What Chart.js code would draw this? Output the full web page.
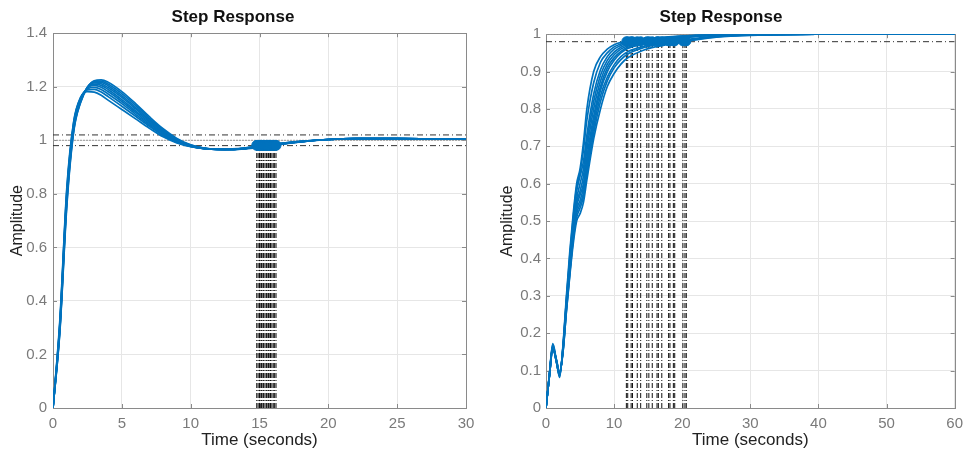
<!DOCTYPE html>
<html>
<head>
<meta charset="utf-8">
<script src="https://cdn.jsdelivr.net/npm/chart.js@4.4.0/dist/chart.umd.min.js"></script>
<style>
  html, body { margin: 0; padding: 0; background: #fff; }
  #wrap { position: relative; width: 970px; height: 456px; }
  .box { position: absolute; top: 0; width: 485px; height: 456px; }
</style>
</head>
<body>
<div id="wrap">
  <div class="box" style="left:0"><canvas id="leftChart" width="485" height="456"></canvas></div>
  <div class="box" style="left:485px"><canvas id="rightChart" width="485" height="456"></canvas></div>
</div>
<script>
// ---- left plot: step responses (time in seconds) ----
const leftTime = [0, 0.5, 1, 1.5, 2, 2.5, 3, 3.5, 4, 5, 6, 7, 8, 9, 10, 11, 12, 13, 14, 15, 16, 18, 20, 22, 25, 30];
const leftCurves = [
  [0, 0.33, 0.82, 1.07, 1.160, 1.182, 1.180, 1.168, 1.150, 1.115, 1.080, 1.045, 1.013, 0.990, 0.976, 0.969, 0.967, 0.968, 0.972, 0.978, 0.985, 0.996, 1.003, 1.006, 1.006, 1.004],
  [0, 0.32, 0.81, 1.065, 1.158, 1.188, 1.190, 1.180, 1.163, 1.127, 1.090, 1.052, 1.018, 0.992, 0.977, 0.969, 0.966, 0.967, 0.971, 0.978, 0.985, 0.996, 1.003, 1.006, 1.006, 1.004],
  [0, 0.315, 0.80, 1.06, 1.155, 1.192, 1.198, 1.190, 1.173, 1.137, 1.097, 1.057, 1.021, 0.994, 0.977, 0.969, 0.966, 0.967, 0.971, 0.977, 0.984, 0.995, 1.003, 1.006, 1.006, 1.004],
  [0, 0.31, 0.79, 1.055, 1.152, 1.195, 1.205, 1.198, 1.182, 1.145, 1.104, 1.062, 1.025, 0.996, 0.978, 0.969, 0.966, 0.966, 0.970, 0.977, 0.984, 0.995, 1.003, 1.006, 1.006, 1.004],
  [0, 0.305, 0.785, 1.05, 1.150, 1.197, 1.210, 1.205, 1.190, 1.152, 1.110, 1.067, 1.028, 0.998, 0.979, 0.969, 0.966, 0.966, 0.970, 0.976, 0.983, 0.995, 1.003, 1.006, 1.006, 1.004],
  [0, 0.30, 0.78, 1.045, 1.147, 1.198, 1.214, 1.211, 1.197, 1.160, 1.117, 1.072, 1.032, 1.000, 0.980, 0.970, 0.966, 0.966, 0.970, 0.976, 0.983, 0.995, 1.003, 1.006, 1.006, 1.004],
  [0, 0.295, 0.77, 1.04, 1.145, 1.198, 1.217, 1.216, 1.204, 1.167, 1.123, 1.077, 1.035, 1.002, 0.981, 0.970, 0.966, 0.966, 0.969, 0.975, 0.982, 0.994, 1.003, 1.006, 1.006, 1.004],
  [0, 0.29, 0.76, 1.035, 1.142, 1.197, 1.220, 1.221, 1.210, 1.174, 1.130, 1.082, 1.039, 1.004, 0.982, 0.970, 0.966, 0.965, 0.969, 0.975, 0.982, 0.994, 1.003, 1.006, 1.006, 1.004],
  [0, 0.285, 0.75, 1.03, 1.140, 1.196, 1.222, 1.226, 1.217, 1.182, 1.137, 1.088, 1.043, 1.007, 0.983, 0.971, 0.966, 0.965, 0.968, 0.974, 0.981, 0.994, 1.003, 1.006, 1.006, 1.004]
];
const leftSettle = [14.8, 14.9, 15.0, 15.1, 15.15, 15.25, 15.3, 15.4, 15.5, 15.55, 15.65, 15.7, 15.8, 15.9, 16.0, 16.1, 16.2];
const leftBand = [0.98, 1.02];
const leftFinal = 1;
const leftYTicks = { min: 0, max: 1.4, step: 0.2 };
const leftXTicks = { min: 0, max: 30, step: 5 };

// ---- right plot ----
const rightTime = [0, 0.5, 1, 1.5, 2, 2.5, 3, 3.5, 4, 4.5, 5, 5.5, 6, 7, 8, 9, 10, 11, 12, 14, 16, 18, 20, 22, 25, 30, 40, 60];
const rightCurves = [
  [0, 0.09, 0.172, 0.130, 0.082, 0.170, 0.300, 0.42, 0.52, 0.60, 0.64, 0.71, 0.80, 0.900, 0.940, 0.960, 0.972, 0.978, 0.981, 0.986, 0.990, 0.993, 0.995, 0.997, 0.998, 0.999, 1, 1],
  [0, 0.09, 0.170, 0.128, 0.084, 0.165, 0.290, 0.41, 0.51, 0.59, 0.63, 0.69, 0.77, 0.870, 0.925, 0.950, 0.966, 0.974, 0.979, 0.985, 0.989, 0.992, 0.995, 0.997, 0.998, 0.999, 1, 1],
  [0, 0.088, 0.167, 0.125, 0.087, 0.165, 0.290, 0.40, 0.50, 0.58, 0.62, 0.66, 0.73, 0.840, 0.905, 0.940, 0.960, 0.970, 0.977, 0.983, 0.988, 0.991, 0.994, 0.996, 0.998, 0.999, 1, 1],
  [0, 0.088, 0.165, 0.125, 0.090, 0.160, 0.280, 0.39, 0.49, 0.56, 0.60, 0.64, 0.71, 0.820, 0.890, 0.930, 0.952, 0.965, 0.973, 0.978, 0.984, 0.989, 0.993, 0.996, 0.998, 0.999, 1, 1],
  [0, 0.087, 0.165, 0.127, 0.090, 0.160, 0.280, 0.39, 0.48, 0.55, 0.58, 0.62, 0.69, 0.800, 0.875, 0.920, 0.945, 0.960, 0.969, 0.976, 0.981, 0.988, 0.993, 0.996, 0.998, 0.999, 1, 1],
  [0, 0.087, 0.163, 0.127, 0.092, 0.158, 0.275, 0.38, 0.47, 0.54, 0.57, 0.60, 0.67, 0.780, 0.860, 0.910, 0.937, 0.954, 0.965, 0.974, 0.979, 0.984, 0.990, 0.994, 0.997, 0.999, 1, 1],
  [0, 0.086, 0.162, 0.128, 0.093, 0.155, 0.270, 0.37, 0.46, 0.53, 0.555, 0.59, 0.655, 0.765, 0.850, 0.900, 0.930, 0.950, 0.962, 0.972, 0.977, 0.983, 0.989, 0.994, 0.997, 0.999, 1, 1],
  [0, 0.086, 0.161, 0.130, 0.094, 0.153, 0.265, 0.365, 0.455, 0.52, 0.545, 0.575, 0.64, 0.750, 0.835, 0.885, 0.918, 0.940, 0.953, 0.966, 0.974, 0.979, 0.984, 0.989, 0.994, 0.998, 1, 1],
  [0, 0.085, 0.160, 0.130, 0.095, 0.150, 0.260, 0.36, 0.45, 0.51, 0.535, 0.565, 0.625, 0.735, 0.820, 0.875, 0.910, 0.932, 0.947, 0.962, 0.971, 0.977, 0.982, 0.987, 0.993, 0.998, 1, 1],
  [0, 0.085, 0.158, 0.132, 0.097, 0.150, 0.260, 0.355, 0.44, 0.50, 0.52, 0.55, 0.61, 0.720, 0.800, 0.860, 0.895, 0.920, 0.937, 0.955, 0.966, 0.973, 0.979, 0.985, 0.992, 0.997, 1, 1]
];
const rightSettle = [11.8, 12.0, 12.5, 12.7, 13.4, 13.9, 14.8, 15.1, 15.6, 16.3, 16.5, 17.0, 18.0, 18.2, 18.7, 18.9, 20.1, 20.4, 20.6];
const rightBand = [0.98];
const rightFinal = 1;
const rightYTicks = { min: 0, max: 1, step: 0.1 };
const rightXTicks = { min: 0, max: 60, step: 10 };

const settleLevel = 0.981;

const blue = '#0072BD';
Chart.defaults.font.family = "'Liberation Sans', Arial, Helvetica, sans-serif";
Chart.defaults.animation = false;

// box around the axes with inward tick marks, like MATLAB
const framePlugin = {
  id: 'frame',
  beforeDatasetsDraw(chart) {
    const { ctx, chartArea: a, scales } = chart;
    ctx.save();
    ctx.strokeStyle = '#8a8a8a';
    ctx.lineWidth = 1;
    ctx.beginPath();
    scales.x.ticks.forEach(t => {
      const px = Math.round(scales.x.getPixelForValue(t.value)) + 0.5;
      ctx.moveTo(px, a.bottom); ctx.lineTo(px, a.bottom - 4);
      ctx.moveTo(px, a.top); ctx.lineTo(px, a.top + 4);
    });
    scales.y.ticks.forEach(t => {
      const py = Math.round(scales.y.getPixelForValue(t.value)) + 0.5;
      ctx.moveTo(a.left, py); ctx.lineTo(a.left + 4, py);
      ctx.moveTo(a.right, py); ctx.lineTo(a.right - 4, py);
    });
    ctx.stroke();
    ctx.strokeRect(Math.round(a.left) + 0.5, Math.round(a.top) + 0.5,
                   Math.round(a.right - a.left), Math.round(a.bottom - a.top));
    ctx.restore();
  }
};

function buildDatasets(time, curves, settle, band, finalValue, xMax, markerSize) {
  const sets = [];
  // settling markers on top
  sets.push({
    data: settle.map(t => ({ x: t, y: settleLevel })),
    showLine: false, pointRadius: markerSize, pointBackgroundColor: blue,
    pointBorderColor: blue, order: 0
  });
  curves.forEach(c => {
    sets.push({
      data: time.map((t, i) => ({ x: t, y: c[i] })),
      showLine: true, borderColor: blue, borderWidth: 1.7, pointRadius: 0,
      cubicInterpolationMode: 'monotone', order: 1
    });
  });
  // vertical settling-time lines
  settle.forEach(t => {
    sets.push({
      data: [{ x: t, y: 0 }, { x: t, y: settleLevel }],
      showLine: true, borderColor: '#111', borderWidth: 1,
      borderDash: [5, 2, 1, 2], pointRadius: 0, order: 2
    });
  });
  // settling band lines
  band.forEach(v => {
    sets.push({
      data: [{ x: 0, y: v }, { x: xMax, y: v }],
      showLine: true, borderColor: '#333', borderWidth: 1,
      borderDash: [6, 3, 1, 3], pointRadius: 0, order: 2
    });
  });
  sets.push({
    data: [{ x: 0, y: finalValue }, { x: xMax, y: finalValue }],
    showLine: true, borderColor: '#9a9a9a', borderWidth: 1,
    borderDash: [2, 1], pointRadius: 0, order: 3
  });
  return sets;
}

function makeChart(id, cfg) {
  const ctx = document.getElementById(id).getContext('2d');
  return new Chart(ctx, {
    type: 'scatter',
    data: { datasets: buildDatasets(cfg.time, cfg.curves, cfg.settle, cfg.band, cfg.finalValue, cfg.xt.max, cfg.markerSize) },
    options: {
      responsive: false,
      layout: { padding: { left: 0, right: cfg.padRight, top: 0, bottom: 0 } },
      plugins: {
        legend: { display: false },
        tooltip: { enabled: false },
        title: {
          display: true, text: 'Step Response', color: '#111',
          font: { size: 17, weight: 'bold' },
          padding: { top: 7, bottom: cfg.titleBottom }
        }
      },
      scales: {
        x: {
          type: 'linear', min: cfg.xt.min, max: cfg.xt.max,
          ticks: { stepSize: cfg.xt.step, color: '#7a7a7a', font: { size: 15 }, padding: 7, maxRotation: 0 },
          grid: { color: '#e6e6e6', drawTicks: false },
          border: { display: false },
          title: { display: true, text: 'Time (seconds)', color: '#222', font: { size: 17 }, padding: { top: 0, bottom: 5 } },
          afterFit: s => { s.height = 48; }
        },
        y: {
          min: cfg.yt.min, max: cfg.yt.max,
          ticks: {
            stepSize: cfg.yt.step, color: '#7a7a7a', font: { size: 15 }, padding: cfg.yPad,
            callback: v => String(+v.toFixed(2))
          },
          grid: { color: '#e6e6e6', drawTicks: false },
          border: { display: false },
          title: { display: true, text: 'Amplitude', color: '#222', font: { size: 16 }, padding: { top: cfg.yTitleTop, bottom: 0 } },
          afterFit: s => { s.width = cfg.yWidth; }
        }
      }
    },
    plugins: [framePlugin]
  });
}

makeChart('leftChart', {
  time: leftTime, curves: leftCurves, settle: leftSettle, band: leftBand, finalValue: leftFinal,
  xt: leftXTicks, yt: leftYTicks, padRight: 19, titleBottom: 5.8, yWidth: 53, yPad: 6, yTitleTop: 8.4, markerSize: 5
});
makeChart('rightChart', {
  time: rightTime, curves: rightCurves, settle: rightSettle, band: rightBand, finalValue: rightFinal,
  xt: rightXTicks, yt: rightYTicks, padRight: 13, titleBottom: 6.8, yWidth: 61, yPad: 5, yTitleTop: 13.4, markerSize: 4.5
});
</script>
</body>
</html>
